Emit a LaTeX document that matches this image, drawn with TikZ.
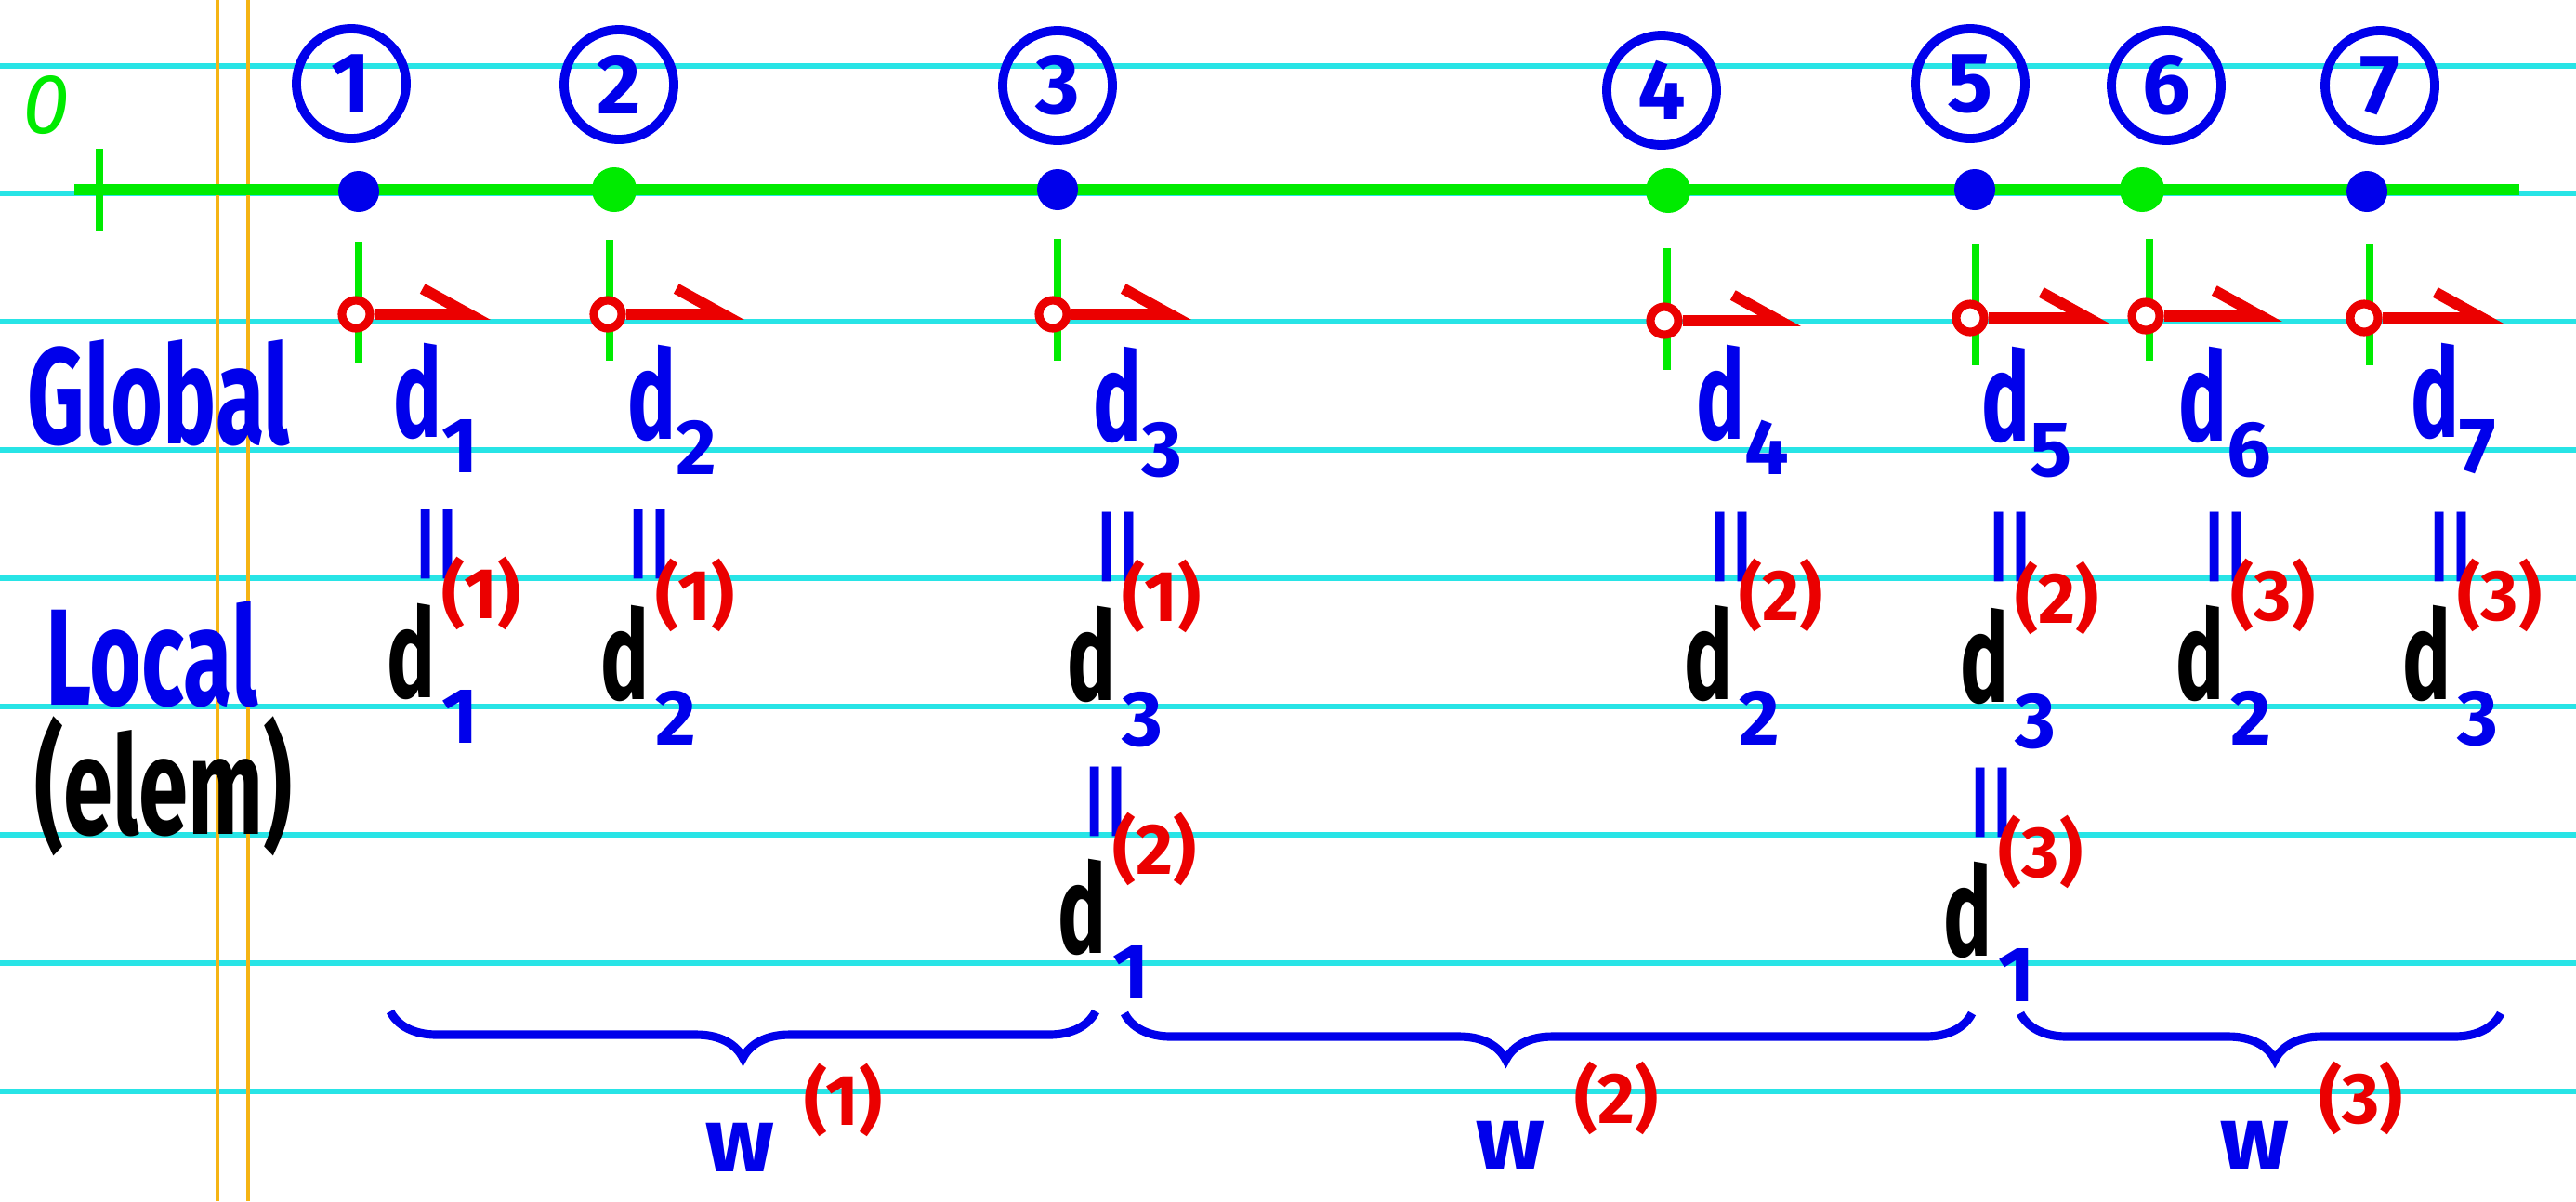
\documentclass[tikz,border=0pt]{standalone}
\usepackage{fontspec}
\setmainfont{Fira Sans}
\newfontfamily\handfont[FakeStretch=0.65]{Fira Sans}
\newfontfamily\eqfont{DejaVu Sans}
\usepackage{tikz}
\usetikzlibrary{arrows.meta, positioning, decorations.pathreplacing}

\definecolor{rulecyan}{RGB}{40, 228, 230}
\definecolor{marginorange}{RGB}{245, 180, 20}
\definecolor{axisgreen}{RGB}{0, 235, 0}
\definecolor{penblue}{RGB}{0, 0, 235}
\definecolor{penred}{RGB}{235, 0, 0}

\newcommand{\subfnt}{\normalfont\bfseries\fontsize{24}{24}\selectfont}
\newcommand{\supfnt}{\normalfont\bfseries\fontsize{22}{22}\selectfont}
\newcommand{\gdof}[1]{d\raisebox{-11pt}{\subfnt #1}}
\newcommand{\ldof}[2]{d\rlap{\hspace{2pt}\raisebox{24pt}{\supfnt\color{penred}(#1)}}\raisebox{-14pt}{\hspace{2pt}\subfnt\color{penblue}#2}}
\newcommand{\wlab}[1]{w\hspace{9pt}\raisebox{14pt}{\supfnt\color{penred}(#1)}}

\begin{document}
\begin{tikzpicture}[
  rule/.style={rulecyan, line width=1.7pt},
  marg/.style={marginorange, line width=0.9pt},
  gaxis/.style={axisgreen, line width=3.4pt},
  num/.style={circle, draw=penblue, line width=2.8pt, minimum size=1.18cm, inner sep=0pt, text=penblue, font=\bfseries\fontsize{26}{26}\selectfont},
  dotb/.style={circle, fill=penblue, inner sep=0pt, minimum size=0.44cm},
  dotg/.style={circle, fill=axisgreen, inner sep=0pt, minimum size=0.48cm},
  dof/.style={axisgreen, line width=2.2pt},
  ring/.style={circle, draw=penred, fill=white, line width=2.6pt, inner sep=0pt, minimum size=0.3cm},
  harp/.style={penred, line width=3.4pt, -{Straight Barb[left, length=0.5cm, width=0.55cm]}},
  word/.style={anchor=base west, inner sep=0pt, font=\handfont\bfseries\fontsize{42}{42}\selectfont},
  gl/.style={anchor=base west, inner sep=0pt, text=penblue, font=\handfont\bfseries\fontsize{38}{38}\selectfont},
  lc/.style={anchor=base west, inner sep=0pt, text=black, font=\handfont\bfseries\fontsize{38}{38}\selectfont},
  eqs/.style={rotate=90, inner sep=0pt, text=penblue, font=\eqfont\fontsize{34}{34}\selectfont},
  brc/.style={penblue, line width=2.6pt, decorate},
  wl/.style={anchor=base west, inner sep=0pt, text=penblue, font=\bfseries\fontsize{28}{28}\selectfont}
]
  \fill[white] (0,0) rectangle (27.72,-12.92);
  \useasboundingbox (0,0) rectangle (27.72,-12.92);

  \draw[rule] (0,-0.71) -- (27.72,-0.71) (0,-2.08) -- (27.72,-2.08) (0,-3.46) -- (27.72,-3.46)
    (0,-4.84) -- (27.72,-4.84) (0,-6.22) -- (27.72,-6.22) (0,-7.60) -- (27.72,-7.60)
    (0,-8.98) -- (27.72,-8.98) (0,-10.36) -- (27.72,-10.36) (0,-11.74) -- (27.72,-11.74);
  \draw[marg] (2.34,0) -- (2.34,-12.92) (2.67,0) -- (2.67,-12.92);

  \node[text=axisgreen, font=\itshape\fontsize{26}{26}\selectfont] (zero) at (0.50,-1.13) {0};
  \coordinate (ax0) at (0.80,-2.04);
  \coordinate (ax1) at (27.11,-2.04);
  \draw[gaxis] (ax0) -- (ax1);
  \draw[dof] (1.07,-1.60) -- (1.07,-2.48);

  \node[num] (n1) at (3.78,-0.90) {1};
  \node[num] (n2) at (6.66,-0.91) {2};
  \node[num] (n3) at (11.38,-0.92) {3};
  \node[num] (n4) at (17.88,-0.97) {4};
  \node[num] (n5) at (21.20,-0.90) {5};
  \node[num] (n6) at (23.31,-0.92) {6};
  \node[num] (n7) at (25.61,-0.92) {7};

  \node[dotb] (p1) at (3.86,-2.06) {};
  \node[dotg] (p2) at (6.61,-2.04) {};
  \node[dotb] (p3) at (11.38,-2.04) {};
  \node[dotg] (p4) at (17.95,-2.05) {};
  \node[dotb] (p5) at (21.25,-2.04) {};
  \node[dotg] (p6) at (23.05,-2.04) {};
  \node[dotb] (p7) at (25.47,-2.06) {};

  \draw[dof] (3.86,-2.60) -- (3.86,-3.90);
  \draw[dof] (6.56,-2.58) -- (6.56,-3.88);
  \draw[dof] (11.38,-2.57) -- (11.38,-3.88);
  \draw[dof] (17.94,-2.67) -- (17.94,-3.98);
  \draw[dof] (21.26,-2.63) -- (21.26,-3.93);
  \draw[dof] (23.13,-2.57) -- (23.13,-3.88);
  \draw[dof] (25.50,-2.63) -- (25.50,-3.93);

  \node[ring] (r1) at (3.83,-3.38) {};
  \node[ring] (r2) at (6.54,-3.38) {};
  \node[ring] (r3) at (11.33,-3.38) {};
  \node[ring] (r4) at (17.91,-3.45) {};
  \node[ring] (r5) at (21.20,-3.42) {};
  \node[ring] (r6) at (23.09,-3.40) {};
  \node[ring] (r7) at (25.44,-3.42) {};
  \coordinate (a1) at (5.28,-3.38);
  \coordinate (a2) at (8.01,-3.38);
  \coordinate (a3) at (12.82,-3.38);
  \coordinate (a4) at (19.38,-3.45);
  \coordinate (a5) at (22.70,-3.42);
  \coordinate (a6) at (24.56,-3.40);
  \coordinate (a7) at (26.94,-3.42);
  \draw[harp] (r1) -- (a1);
  \draw[harp] (r2) -- (a2);
  \draw[harp] (r3) -- (a3);
  \draw[harp] (r4) -- (a4);
  \draw[harp] (r5) -- (a5);
  \draw[harp] (r6) -- (a6);
  \draw[harp] (r7) -- (a7);

  \node[word, text=penblue] (global) at (0.29,-4.77) {Global};
  \node[word, text=penblue] (local) at (0.49,-7.58) {Local};
  \node[word, text=black] (elem) at (0.37,-8.97) {(elem)};

  \node[gl] (g1) at (4.23,-4.70) {\gdof{1}};
  \node[gl] (g2) at (6.75,-4.72) {\gdof{2}};
  \node[gl] (g3) at (11.76,-4.74) {\gdof{3}};
  \node[gl] (g4) at (18.25,-4.72) {\gdof{4}};
  \node[gl] (g5) at (21.32,-4.74) {\gdof{5}};
  \node[gl] (g6) at (23.44,-4.74) {\gdof{6}};
  \node[gl] (g7) at (25.94,-4.70) {\gdof{7}};

  \node[eqs] (e1) at (4.80,-5.85) {=};
  \node[eqs] (e2) at (7.09,-5.85) {=};
  \node[eqs] (e3) at (12.13,-5.88) {=};
  \node[eqs] (e4) at (18.73,-5.88) {=};
  \node[eqs] (e5) at (21.73,-5.88) {=};
  \node[eqs] (e6) at (24.05,-5.88) {=};
  \node[eqs] (e7) at (26.47,-5.88) {=};

  \node[lc] (l1) at (4.16,-7.50) {\ldof{1}{1}};
  \node[lc] (l2) at (6.46,-7.52) {\ldof{1}{2}};
  \node[lc] (l3) at (11.48,-7.53) {\ldof{1}{3}};
  \node[lc] (l4) at (18.12,-7.52) {\ldof{2}{2}};
  \node[lc] (l5) at (21.09,-7.55) {\ldof{2}{3}};
  \node[lc] (l6) at (23.41,-7.52) {\ldof{3}{2}};
  \node[lc] (l7) at (25.85,-7.52) {\ldof{3}{3}};

  \node[eqs] (e8) at (12.00,-8.62) {=};
  \node[eqs] (e9) at (21.53,-8.63) {=};
  \node[lc] (m1) at (11.38,-10.25) {\ldof{2}{1}};
  \node[lc] (m2) at (20.91,-10.28) {\ldof{3}{1}};

  \coordinate (b1a) at (4.20,-10.88);
  \coordinate (b1b) at (11.79,-10.88);
  \coordinate (b2a) at (12.10,-10.90);
  \coordinate (b2b) at (21.22,-10.90);
  \coordinate (b3a) at (21.74,-10.90);
  \coordinate (b3b) at (26.91,-10.90);
  \draw[brc, decoration={brace, mirror, amplitude=0.5cm, aspect=0.5}] (b1a) -- (b1b);
  \draw[brc, decoration={brace, mirror, amplitude=0.5cm, aspect=0.45}] (b2a) -- (b2b);
  \draw[brc, decoration={brace, mirror, amplitude=0.5cm, aspect=0.53}] (b3a) -- (b3b);

  \node[wl] (w1) at (7.59,-12.60) {\wlab{1}};
  \node[wl] (w2) at (15.88,-12.58) {\wlab{2}};
  \node[wl] (w3) at (23.89,-12.58) {\wlab{3}};
\end{tikzpicture}
\end{document}
